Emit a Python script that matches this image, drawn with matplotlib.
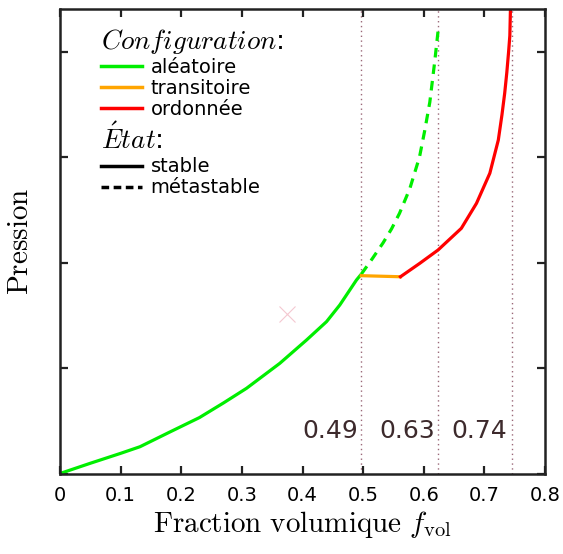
import matplotlib
matplotlib.use("Agg")
import matplotlib.pyplot as plt
from matplotlib.lines import Line2D

plt.rcParams['mathtext.fontset'] = 'cm'
plt.rcParams['font.family'] = ['DejaVu Sans']

# Data
stable_x = [0.0, 0.05, 0.10, 0.132, 0.18, 0.23, 0.27, 0.3077, 0.3626, 0.4066, 0.4396, 0.4615, 0.489, 0.497]
stable_y = [0.0, 0.097, 0.191, 0.254, 0.39, 0.53, 0.67, 0.8076, 1.0445, 1.265, 1.439, 1.597, 1.834, 1.89]

meta_x = [0.497, 0.515, 0.533, 0.547, 0.560, 0.577, 0.593, 0.6016, 0.610, 0.618, 0.6235]
meta_y = [1.89, 2.035, 2.187, 2.32, 2.466, 2.70, 3.0, 3.25, 3.52, 3.90, 4.188]

trans_x = [0.497, 0.5616]
trans_y = [1.875, 1.865]

ord_x = [0.5616, 0.5934, 0.6235, 0.662, 0.687, 0.709, 0.723, 0.729, 0.7335, 0.737, 0.740, 0.742, 0.743]
ord_y = [1.865, 1.992, 2.118, 2.324, 2.561, 2.846, 3.161, 3.40, 3.604, 3.80, 4.0, 4.15, 4.40]

vlines_x = [0.496, 0.623, 0.745]
vlines_labels = ["0.49", "0.63", "0.74"]

xticks = [0, 0.1, 0.2, 0.3, 0.4, 0.5, 0.6, 0.7, 0.8]
xtick_labels = ["0", "0.1", "0.2", "0.3", "0.4", "0.5", "0.6", "0.7", "0.8"]
yticks = [0, 1, 2, 3, 4]

cross_x = [0.374]
cross_y = [1.51]

GREEN = "#00ee00"
ORANGE = "#ffa500"
RED = "#ff0000"

fig = plt.figure(figsize=(5.63, 5.54), dpi=100)
ax = fig.add_axes([60/563, 1-473.5/554, 485/563, (473.5-9.3)/554])

ax.plot(stable_x, stable_y, color=GREEN, lw=2.3, solid_capstyle='butt', solid_joinstyle='round')
ax.plot(meta_x, meta_y, color=GREEN, lw=2.3, ls=(0, (3, 2.2)))
ax.plot(trans_x, trans_y, color=ORANGE, lw=2.3)
ax.plot(ord_x, ord_y, color=RED, lw=2.3, solid_joinstyle='round')

for xv in vlines_x:
    ax.axvline(xv, color="#9a6878", lw=1.0, ls=(0, (1, 2.5)), zorder=0)

ax.plot(cross_x, cross_y, marker='x', ms=11, mew=0.8, color="#f4c8d0", ls='none')

label_pos = [0.445, 0.572, 0.691]
for lx, lab in zip(label_pos, vlines_labels):
    ax.text(lx, 0.4, lab, fontsize=18, color="#3d2a2c", ha='center', va='center')

ax.set_xlim(0, 0.8)
ax.set_ylim(0, 4.40)
ax.set_xticks(xticks)
ax.set_xticklabels(xtick_labels, fontsize=14)
ax.set_yticks(yticks)
ax.set_yticklabels([])
ax.tick_params(direction='in', length=6, width=1.6, top=True, right=True, pad=9, color="#222222")
for sp in ax.spines.values():
    sp.set_linewidth(1.8)
    sp.set_color("#222222")

ax.set_xlabel(r"$\mathrm{Fraction\ volumique}\ f_{\mathrm{vol}}$", fontsize=21, labelpad=3)
ax.set_ylabel(r"$\mathrm{Pression}$", fontsize=21, labelpad=10)

h1 = [Line2D([], [], color=GREEN, lw=2.5),
      Line2D([], [], color=ORANGE, lw=2.5),
      Line2D([], [], color=RED, lw=2.5)]
leg1 = ax.legend(h1, ["aléatoire", "transitoire", "ordonnée"],
                 title=r"$Configuration$:", loc='upper left',
                 bbox_to_anchor=(101/563, 1-27/554), bbox_transform=fig.transFigure,
                 frameon=False, fontsize=14, title_fontsize=19.5, alignment='left',
                 handlelength=2.1, handletextpad=0.45, labelspacing=0.1, borderpad=0,
                 borderaxespad=0)
ax.add_artist(leg1)
h2 = [Line2D([], [], color='black', lw=2.5),
      Line2D([], [], color='black', lw=2.5, ls=(0, (2.2, 1.3)))]
ax.legend(h2, ["stable", "métastable"], title=r"$\acute{E}tat$:", loc='upper left',
          bbox_to_anchor=(101/563, 1-124/554), bbox_transform=fig.transFigure,
          frameon=False, fontsize=14, title_fontsize=19.5, alignment='left',
          handlelength=2.1, handletextpad=0.45, labelspacing=0.1, borderpad=0,
          borderaxespad=0)

fig.savefig("out.png", dpi=100)
